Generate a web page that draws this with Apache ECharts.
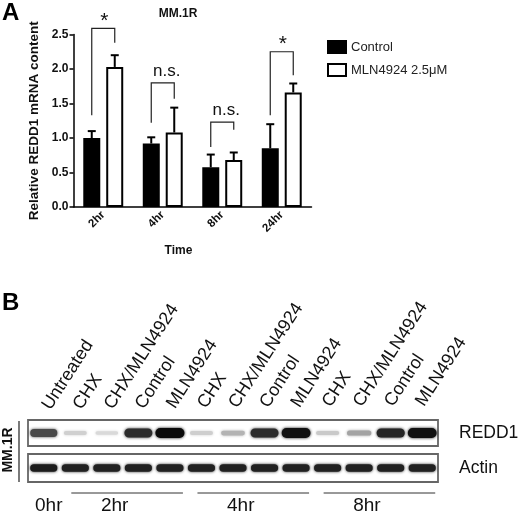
<!DOCTYPE html>
<html><head><meta charset="utf-8">
<script src="https://cdn.jsdelivr.net/npm/echarts@6/dist/echarts.min.js"></script>
<style>html,body{margin:0;padding:0;background:#fff}#c{width:520px;height:516px}</style>
</head><body><div id="c"></div>
<script>
// ---- Panel A data ----
const timeCats = ['2hr', '4hr', '8hr', '24hr'];
const controlMean = [1.00, 0.92, 0.575, 0.85];
const controlErrTop = [1.10, 1.01, 0.76, 1.20];
const mlnMean = [2.03, 1.08, 0.68, 1.66];
const mlnErrTop = [2.20, 1.44, 0.79, 1.79];
const sigLabels = ['*', 'n.s.', 'n.s.', '*'];
const bracketTop = [2.59, 1.80, 1.23, 2.25];
const bracketLeftEnd = [1.33, 1.22, 0.87, 1.33];
const bracketRightEnd = [2.38, 1.57, 1.12, 1.91];
const yTicks = [0, 0.5, 1.0, 1.5, 2.0, 2.5];

// ---- Panel B data ----
const laneLabels = ['Untreated', 'CHX', 'CHX/MLN4924', 'Control', 'MLN4924',
  'CHX', 'CHX/MLN4924', 'Control', 'MLN4924',
  'CHX', 'CHX/MLN4924', 'Control', 'MLN4924'];
const redd1Intensity = [0.72, 0.12, 0.08, 0.85, 1.0, 0.13, 0.25, 0.85, 0.97, 0.15, 0.32, 0.88, 0.97];
const actinIntensity = [0.92, 0.9, 0.9, 0.9, 0.9, 0.9, 0.9, 0.9, 0.9, 0.9, 0.9, 0.9, 0.9];
const groupNames = ['0hr', '2hr', '4hr', '8hr'];
const groupFrom = [0, 1, 5, 9];
const groupTo = [0, 4, 8, 12];

const FONT = 'Liberation Sans, Arial, Helvetica, sans-serif';
const OFF = 11.5;

function errItem(offset) {
  return function (params, api) {
    const c = api.coord([api.value(0), api.value(1)]);
    const t = api.coord([api.value(0), api.value(2)]);
    const x = c[0] + offset;
    return { type: 'group', children: [
      { type: 'line', shape: { x1: x, y1: c[1], x2: x, y2: t[1] }, style: { stroke: '#000', lineWidth: 2 } },
      { type: 'line', shape: { x1: x - 4, y1: t[1], x2: x + 4, y2: t[1] }, style: { stroke: '#000', lineWidth: 2 } }
    ] };
  };
}

function bracketItem(params, api) {
  const i = api.value(0);
  const cx = api.coord([i, 0])[0];
  const yT = api.coord([i, api.value(1)])[1];
  const yL = api.coord([i, api.value(2)])[1];
  const yR = api.coord([i, api.value(3)])[1];
  const lx = cx - OFF, rx = cx + OFF;
  const lab = sigLabels[params.dataIndex];
  const star = lab === '*';
  return { type: 'group', children: [
    { type: 'polyline', shape: { points: [[lx, yL], [lx, yT], [rx, yT], [rx, yR]] },
      style: { stroke: '#222', lineWidth: 1.2, fill: null } },
    { type: 'text', x: cx + (star ? 1 : 4), y: yT - (star ? -3 : 3),
      style: { text: lab, fontFamily: FONT, fontSize: star ? 21 : 17, fill: '#111',
        textAlign: 'center', textVerticalAlign: 'bottom' } }
  ] };
}

function bandItem(kind) {
  return function (params, api) {
    const lane = api.value(0);
    const inten = api.value(2);
    const c = api.coord([lane, 0]);
    const laneW = api.size([1, 0])[0];
    let w, h, g;
    if (kind === 'redd1') {
      w = laneW * (0.7 + 0.22 * inten);
      h = 3 + 7 * inten;
      g = Math.round(235 - 225 * inten);
    } else {
      w = laneW * 0.86;
      h = 7.5;
      g = Math.round(235 - 225 * inten);
    }
    const col = 'rgb(' + g + ',' + g + ',' + g + ')';
    return { type: 'rect', shape: { x: c[0] - w / 2, y: c[1] - h / 2, width: w, height: h, r: h / 2 },
      style: { fill: col, shadowBlur: 3, shadowColor: col } };
  };
}

function laneLabelItem(params, api) {
  const c = api.coord([api.value(0), 0]);
  const top = params.coordSys.y;
  return { type: 'text', x: c[0] + 10 - 0.4 * params.dataIndex, y: top - 7 - 0.3 * params.dataIndex,
    rotation: 57 * Math.PI / 180,
    style: { text: laneLabels[params.dataIndex], fontFamily: FONT, fontSize: 18, fill: '#111',
      textAlign: 'left', textVerticalAlign: 'bottom' } };
}

function groupItem(params, api) {
  const f = api.value(0), t = api.value(1);
  const xf = api.coord([f, 0])[0];
  const xt = api.coord([t, 0])[0];
  const bottom = params.coordSys.y + params.coordSys.height;
  const children = [];
  if (t > f) {
    children.push({ type: 'line', shape: { x1: xf - 4, y1: bottom + 11, x2: xt + 13, y2: bottom + 11 },
      style: { stroke: '#333', lineWidth: 1 } });
  }
  const mid = t > f ? (xf + xt) / 2 - 8 : xf + 5;
  children.push({ type: 'text', x: mid, y: bottom + 24,
    style: { text: groupNames[params.dataIndex], fontFamily: FONT, fontSize: 19, fill: '#111',
      textAlign: 'center', textVerticalAlign: 'middle' } });
  return { type: 'group', children };
}

const chart = echarts.init(document.getElementById('c'), null, { renderer: 'canvas' });
chart.setOption({
  animation: false,
  textStyle: { fontFamily: FONT },
  title: { text: 'MM.1R', left: 173, top: 3, textAlign: 'center',
    textStyle: { fontSize: 12, fontWeight: 'bold', color: '#111', fontFamily: FONT } },
  legend: {
    orient: 'vertical', left: 322, top: 35, itemWidth: 18, itemHeight: 12, itemGap: 9,
    icon: 'rect', data: ['Control', 'MLN4924 2.5μM'],
    textStyle: { fontSize: 13, color: '#222', fontFamily: FONT }
  },
  graphic: [
    { type: 'text', left: 2, top: 1, style: { text: 'A', fontSize: 24, fontWeight: 'bold', fontFamily: FONT, fill: '#000' } },
    { type: 'text', left: 2, top: 291, style: { text: 'B', fontSize: 24, fontWeight: 'bold', fontFamily: FONT, fill: '#000' } },
    { type: 'text', x: 8, y: 450, rotation: Math.PI / 2,
      style: { text: 'MM.1R', fontSize: 14, fontWeight: 'bold', fontFamily: FONT, fill: '#111',
        textAlign: 'center', textVerticalAlign: 'middle' } },
    { type: 'line', shape: { x1: 19, y1: 421, x2: 19, y2: 482 }, style: { stroke: '#222', lineWidth: 1.2 } }
  ],
  grid: [
    { left: 73.5, right: 208.5, top: 34.5, bottom: 309, outerBoundsMode: 'none', containLabel: false },
    { left: 28, width: 410, top: 420, height: 26, show: true, borderColor: '#666', borderWidth: 1.8, backgroundColor: '#fff', outerBoundsMode: 'none', containLabel: false },
    { left: 28, width: 410, top: 454, height: 28, show: true, borderColor: '#666', borderWidth: 1.8, backgroundColor: '#fff', outerBoundsMode: 'none', containLabel: false }
  ],
  xAxis: [
    { gridIndex: 0, type: 'category', data: timeCats,
      name: 'Time', nameLocation: 'middle', nameGap: 38,
      nameTextStyle: { fontSize: 12, fontWeight: 'bold', color: '#111', padding: [0, 28, 0, 0] },
      axisLine: { lineStyle: { color: '#000', width: 1.5 } },
      axisTick: { alignWithLabel: true, length: 4, lineStyle: { color: '#000', width: 1.5 } },
      axisLabel: { rotate: 45, fontSize: 11.5, fontWeight: 'bold', color: '#111', margin: 6 } },
    { gridIndex: 1, type: 'category', data: laneLabels, show: false },
    { gridIndex: 2, type: 'category', data: laneLabels, show: false }
  ],
  yAxis: [
    { gridIndex: 0, type: 'value', min: 0, max: 2.5, interval: 0.5,
      name: 'Relative REDD1 mRNA content', nameLocation: 'middle', nameGap: 32,
      nameTextStyle: { fontSize: 13.5, fontWeight: 'bold', color: '#111' },
      axisLine: { show: true, lineStyle: { color: '#000', width: 1.5 } },
      axisTick: { show: true, length: 4, lineStyle: { color: '#000', width: 1.5 } },
      splitLine: { show: false },
      axisLabel: { fontSize: 12, fontWeight: 'bold', color: '#111', margin: 5,
        formatter: v => yTicks.indexOf(v) >= 0 ? v.toFixed(1) : '' } },
    { gridIndex: 1, type: 'category', data: ['REDD1'], position: 'right',
      axisLine: { show: false }, axisTick: { show: false },
      axisLabel: { fontSize: 17.5, color: '#111', margin: 21, padding: [0, 0, 2, 0] } },
    { gridIndex: 2, type: 'category', data: ['Actin'], position: 'right',
      axisLine: { show: false }, axisTick: { show: false },
      axisLabel: { fontSize: 17.5, color: '#111', margin: 21, padding: [8, 0, 0, 0] } }
  ],
  series: [
    { name: 'Control', type: 'bar', xAxisIndex: 0, yAxisIndex: 0, data: controlMean,
      barWidth: 17, barGap: '35%',
      itemStyle: { color: '#000', borderColor: '#000', borderWidth: 2 } },
    { name: 'MLN4924 2.5μM', type: 'bar', xAxisIndex: 0, yAxisIndex: 0, data: mlnMean,
      barWidth: 17, barGap: '35%',
      itemStyle: { color: '#fff', borderColor: '#000', borderWidth: 2 } },
    { type: 'custom', xAxisIndex: 0, yAxisIndex: 0, z: 5, renderItem: errItem(-OFF),
      data: controlMean.map((v, i) => [i, v, controlErrTop[i]]) },
    { type: 'custom', xAxisIndex: 0, yAxisIndex: 0, z: 5, renderItem: errItem(OFF),
      data: mlnMean.map((v, i) => [i, v, mlnErrTop[i]]) },
    { type: 'custom', xAxisIndex: 0, yAxisIndex: 0, z: 6, clip: false, renderItem: bracketItem,
      data: bracketTop.map((v, i) => [i, v, bracketLeftEnd[i], bracketRightEnd[i]]) },
    { type: 'custom', xAxisIndex: 1, yAxisIndex: 1, renderItem: bandItem('redd1'),
      data: redd1Intensity.map((v, i) => [i, 0, v]) },
    { type: 'custom', xAxisIndex: 1, yAxisIndex: 1, clip: false, renderItem: laneLabelItem,
      data: laneLabels.map((l, i) => [i]) },
    { type: 'custom', xAxisIndex: 2, yAxisIndex: 2, renderItem: bandItem('actin'),
      data: actinIntensity.map((v, i) => [i, 0, v]) },
    { type: 'custom', xAxisIndex: 2, yAxisIndex: 2, clip: false, renderItem: groupItem,
      data: groupFrom.map((f, i) => [f, groupTo[i]]) }
  ]
});
</script></body></html>
